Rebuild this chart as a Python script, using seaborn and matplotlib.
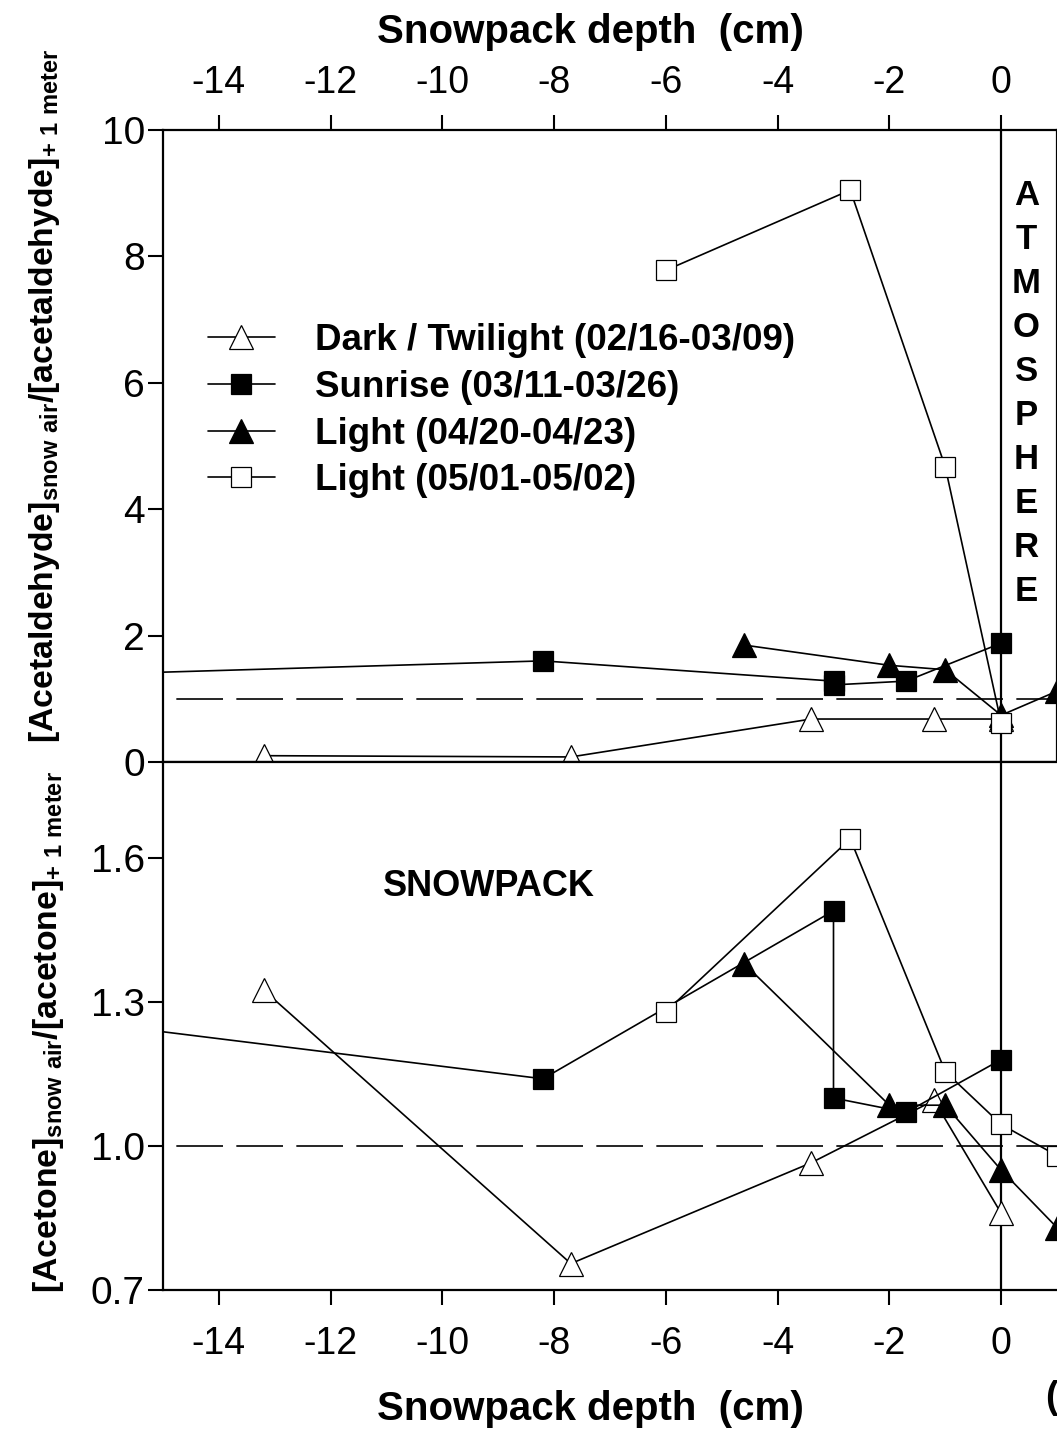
import numpy as np
import pandas as pd
import matplotlib
matplotlib.use("Agg")
import matplotlib.pyplot as plt
import seaborn as sns

# Series names
series = ["Dark / Twilight (02/16-03/09)", "Sunrise (03/11-03/26)",
          "Light (04/20-04/23)", "Light (05/01-05/02)"]

# Acetaldehyde ratio (top panel)
ald_dark_x = [-13.2, -7.7, -3.4, -1.2, 0]
ald_dark_y = [0.10, 0.08, 0.68, 0.68, 0.68]
ald_sun_x = [-20, -8.2, -3, -3, -1.7, 0]
ald_sun_y = [1.29, 1.60, 1.28, 1.22, 1.28, 1.88]
ald_l1_x = [-4.6, -2, -1, 0, 1]
ald_l1_y = [1.85, 1.53, 1.46, 0.74, 1.12]
ald_l2_x = [-6, -2.7, -1, 0]
ald_l2_y = [7.78, 9.05, 4.67, 0.62]

# Acetone ratio (bottom panel)
ace_dark_x = [-13.2, -7.7, -3.4, -1.2, 0]
ace_dark_y = [1.325, 0.755, 0.965, 1.095, 0.86]
ace_sun_x = [-20, -8.2, -3, -3, -1.7, 0]
ace_sun_y = [1.31, 1.14, 1.49, 1.10, 1.07, 1.18]
ace_l1_x = [-4.6, -2, -1, 0, 1]
ace_l1_y = [1.38, 1.085, 1.085, 0.95, 0.83]
ace_l2_x = [-6, -2.7, -1, 0, 1]
ace_l2_y = [1.28, 1.64, 1.155, 1.045, 0.98]

xticks = [-14, -12, -10, -8, -6, -4, -2, 0]
top_yticks = [0, 2, 4, 6, 8, 10]
bot_yticks = [0.7, 1.0, 1.3, 1.6]

sns.set_style("ticks")
plt.rcParams['font.family'] = ['Liberation Sans', 'DejaVu Sans']
plt.rcParams['mathtext.fontset'] = 'custom'
plt.rcParams['axes.unicode_minus'] = False
for k in ['text.color', 'axes.labelcolor', 'xtick.color', 'ytick.color', 'axes.edgecolor']:
    plt.rcParams[k] = 'black'

styles = [
    dict(marker='^', markersize=17, markerfacecolor='white', markeredgecolor='black', markeredgewidth=0.9),
    dict(marker='s', markersize=15, markerfacecolor='black', markeredgecolor='black', markeredgewidth=0.9),
    dict(marker='^', markersize=17, markerfacecolor='black', markeredgecolor='black', markeredgewidth=0.9),
    dict(marker='s', markersize=15, markerfacecolor='white', markeredgecolor='black', markeredgewidth=0.9),
]

fig = plt.figure(figsize=(10.57, 14.45), dpi=100)
ax1 = fig.add_axes([163/1057, 1-762/1445, 894/1057, 632/1445])
ax2 = fig.add_axes([163/1057, 1-1290/1445, 894/1057, 528/1445])

top_data = [(ald_dark_x, ald_dark_y), (ald_sun_x, ald_sun_y), (ald_l1_x, ald_l1_y), (ald_l2_x, ald_l2_y)]
bot_data = [(ace_dark_x, ace_dark_y), (ace_sun_x, ace_sun_y), (ace_l1_x, ace_l1_y), (ace_l2_x, ace_l2_y)]

for ax, data in [(ax1, top_data), (ax2, bot_data)]:
    for name, (xs, ys), st in zip(series, data, styles):
        df = pd.DataFrame({'depth': xs, 'ratio': ys})
        sns.lineplot(data=df, x='depth', y='ratio', sort=False, estimator=None,
                     color='black', linewidth=1.2, label=name if ax is ax1 else None,
                     ax=ax, **st)
    ax.axhline(1.0, color='black', lw=1.2, ls=(28, (28, 8)), zorder=1)
    ax.axvline(0, color='black', lw=1.6, zorder=1)
    ax.set_xlim(-15, 1.0)
    ax.set_xticks(xticks)
    for s in ax.spines.values():
        s.set_linewidth(1.6)
    ax.tick_params(direction='out', length=11, width=1.5, colors='black')

# top panel
ax1.set_ylim(0, 10)
ax1.set_yticks(top_yticks)
ax1.xaxis.tick_top()
ax1.xaxis.set_label_position('top')
ax1.tick_params(axis='x', pad=10, labelsize=27)
ax1.tick_params(axis='y', pad=2, labelsize=28)
ax1.set_xlabel('Snowpack depth  (cm)', fontsize=29, fontweight='bold')
ax1.xaxis.set_label_coords(0.478, 1.137)
ax1.set_ylabel(r'[Acetaldehyde]$_{\mathregular{snow\ air}}$/[acetaldehyde]$_{\mathregular{+\ 1\ meter}}$',
               fontsize=24.3, fontweight='bold')
ax1.yaxis.set_label_coords(-0.113, 0.58)

ax1.text(0.45, 5.83, '\n'.join('ATMOSPHERE'), ha='center', va='center',
         fontsize=25, fontweight='bold', linespacing=1.42)

leg = ax1.legend(loc='upper left', bbox_to_anchor=(208/1057, 1-323/1445),
                 bbox_transform=fig.transFigure, frameon=False, borderpad=0,
                 borderaxespad=0, handlelength=1.82, handletextpad=1.09,
                 labelspacing=0.32, prop={'size': 26.5, 'weight': 'bold'})

# bottom panel
ax2.set_ylim(0.7, 1.8)
ax2.set_yticks(bot_yticks)
ax2.set_yticklabels([f'{v:.1f}' for v in bot_yticks])
ax2.spines['right'].set_visible(False)
ax2.tick_params(axis='x', pad=15, labelsize=27)
ax2.tick_params(axis='y', pad=2, labelsize=28)
ax2.set_xlabel('Snowpack depth  (cm)', fontsize=29, fontweight='bold')
ax2.xaxis.set_label_coords(0.478, -0.19)
ax2.set_ylabel(r'[Acetone]$_{\mathregular{snow\ air}}$/[acetone]$_{\mathregular{+\ 1\ meter}}$',
               fontsize=24.3, fontweight='bold')
ax2.yaxis.set_label_coords(-0.108, 0.489)

ax2.text(-9.17, 1.54, 'SNOWPACK', ha='center', va='center', fontsize=26, fontweight='bold')

fig.text(1045/1057, 1-1398/1445, '(c)', ha='left', va='center', fontsize=27, fontweight='bold')

fig.savefig('out.png', dpi=100)
